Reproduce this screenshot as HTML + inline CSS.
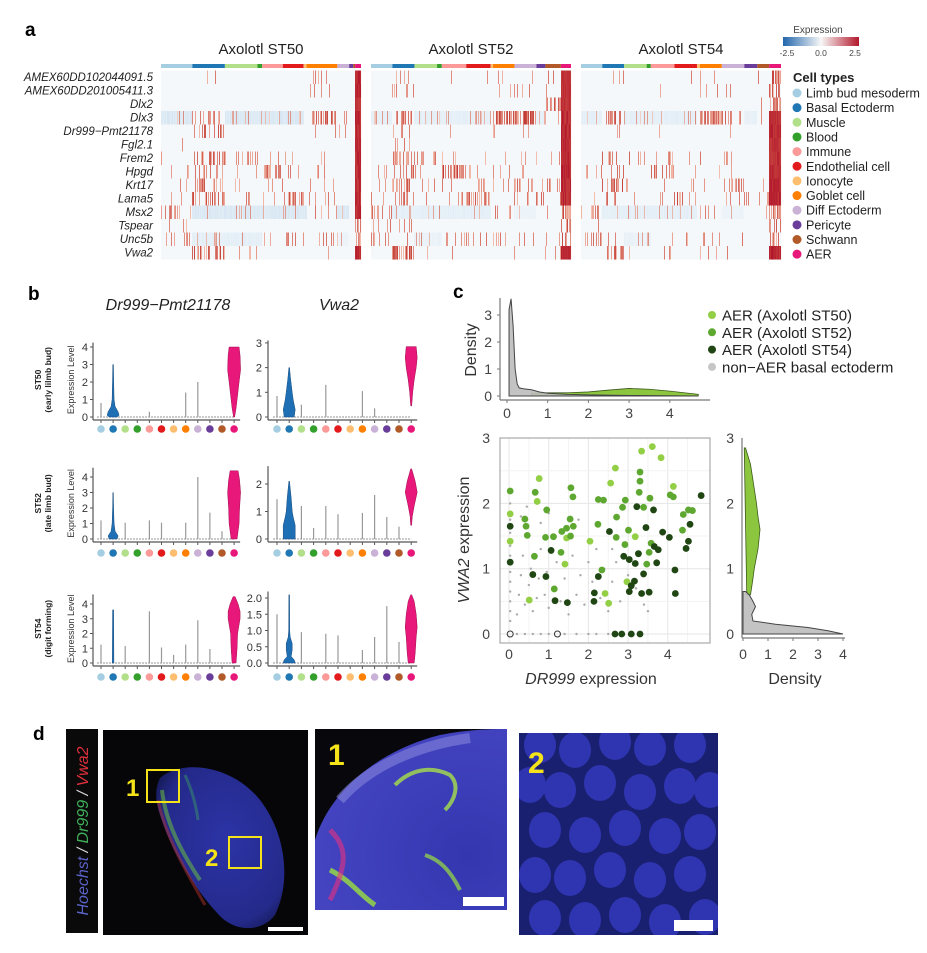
<!DOCTYPE html>
<html><head><meta charset="utf-8"><style>
html,body{margin:0;padding:0;background:#fff}
svg{display:block;font-family:"Liberation Sans",sans-serif}
</style></head><body>
<svg id="fig" width="927" height="953" viewBox="0 0 927 953">
<text x="25" y="36" font-size="19" font-weight="bold">a</text>
<text x="28" y="300" font-size="19" font-weight="bold">b</text>
<text x="453" y="298" font-size="19" font-weight="bold">c</text>
<text x="33" y="740" font-size="19" font-weight="bold">d</text>

<g id="heat"></g>
<g id="heatLegend">
  <defs><linearGradient id="expg" x1="0" x2="1"><stop offset="0" stop-color="#2166ac"/><stop offset="0.5" stop-color="#f7f7f7"/><stop offset="1" stop-color="#b2182b"/></linearGradient></defs>
  <text x="818" y="33" font-size="10" fill="#444" text-anchor="middle">Expression</text>
  <rect x="783" y="37" width="76" height="9" fill="url(#expg)"/>
  <text x="787" y="56" font-size="8.5" fill="#444" text-anchor="middle">-2.5</text>
  <text x="821" y="56" font-size="8.5" fill="#444" text-anchor="middle">0.0</text>
  <text x="855" y="56" font-size="8.5" fill="#444" text-anchor="middle">2.5</text>
  <text x="793" y="82" font-size="13" font-weight="bold" fill="#222">Cell types</text>
</g>
<g id="violins">
  <text x="168" y="310" font-size="16" font-style="italic" text-anchor="middle" fill="#222">Dr999−Pmt21178</text>
  <text x="339" y="310" font-size="16" font-style="italic" text-anchor="middle" fill="#222">Vwa2</text>
</g>
<g id="scatter"></g>
<g id="micro">
  <defs>
    <radialGradient id="tissueG" cx="0.55" cy="0.45" r="0.65"><stop offset="0" stop-color="#2c33a6"/><stop offset="0.8" stop-color="#242a8a"/><stop offset="1" stop-color="#161a5a"/></radialGradient>
    <radialGradient id="zoom1G" cx="0.8" cy="0.7" r="0.8"><stop offset="0" stop-color="#3436b0"/><stop offset="1" stop-color="#4444c0"/></radialGradient>
    <clipPath id="clip2"><rect x="519" y="733" width="199" height="202"/></clipPath>
  </defs>
  <rect x="66" y="729" width="32" height="204" fill="#0a0a0a"/>
  <text transform="translate(88,831) rotate(-90)" font-size="16" font-style="italic" text-anchor="middle"><tspan fill="#5a63c8">Hoechst</tspan><tspan fill="#ddd"> / </tspan><tspan fill="#3faf5a">Dr999</tspan><tspan fill="#ddd"> / </tspan><tspan fill="#e0303c">Vwa2</tspan></text>
  <rect x="103" y="730" width="205" height="205" fill="#060608"/>
  <path d="M160,778 C180,760 230,763 260,800 C285,832 292,880 275,915 C262,932 238,932 222,918 C196,892 172,852 160,815 C155,800 155,788 160,778 Z" fill="url(#tissueG)"/>
  <path d="M162,790 C165,820 180,850 200,880" stroke="#6ac040" stroke-width="4" fill="none" opacity="0.55"/>
  <path d="M158,800 C165,835 185,870 205,905" stroke="#b03028" stroke-width="3" fill="none" opacity="0.5"/>
  <path d="M185,775 C192,790 196,805 198,820" stroke="#3fae5a" stroke-width="3" fill="none" opacity="0.4"/>
  <rect x="147" y="770" width="32" height="32" fill="none" stroke="#f5e31a" stroke-width="2"/>
  <text x="126" y="796" font-size="24" font-weight="bold" fill="#f5e31a">1</text>
  <rect x="229" y="837" width="32" height="31" fill="none" stroke="#f5e31a" stroke-width="2"/>
  <text x="205" y="866" font-size="24" font-weight="bold" fill="#f5e31a">2</text>
  <rect x="268" y="927" width="35" height="4" fill="#fff"/>

  <rect x="315" y="729" width="192" height="181" fill="#08080c"/>
  <path d="M315,910 L315,840 C330,790 380,750 440,735 C470,729 495,729 507,729 L507,910 Z" fill="url(#zoom1G)"/>
  <path d="M340,800 C370,765 420,745 470,738" stroke="#8a8ae0" stroke-width="10" fill="none" opacity="0.55"/>
  <path d="M395,785 C410,770 430,765 450,775 C460,785 455,800 445,810" stroke="#a8e04a" stroke-width="4" fill="none" opacity="0.8"/>
  <path d="M330,870 C350,880 360,895 375,905" stroke="#9ae040" stroke-width="5" fill="none" opacity="0.8"/>
  <path d="M425,855 C440,860 450,870 460,890" stroke="#9ae040" stroke-width="4" fill="none" opacity="0.7"/>
  <path d="M330,830 C345,845 350,860 330,900" stroke="#e83080" stroke-width="5" fill="none" opacity="0.6"/>
  <rect x="463" y="897" width="41" height="9" fill="#fff"/>
  <text x="328" y="765" font-size="30" font-weight="bold" fill="#f5e31a">1</text>

  <rect x="519" y="733" width="199" height="202" fill="#1a2070"/>
  <g id="nuclei" fill="#2f35b0" clip-path="url(#clip2)"></g>
  <rect x="674" y="920" width="39" height="11" fill="#fff"/>
  <text x="528" y="773" font-size="30" font-weight="bold" fill="#f5e31a">2</text>
</g>
</svg>
<script>
const NS='http://www.w3.org/2000/svg';
function mk(tag,attrs,parent){const e=document.createElementNS(NS,tag);for(const k in attrs)e.setAttribute(k,attrs[k]);parent.appendChild(e);return e;}

/* ================= Panel a: heatmap ================= */
const cellTypes=['Limb bud mesoderm','Basal Ectoderm','Muscle','Blood','Immune','Endothelial cell','Ionocyte','Goblet cell','Diff Ectoderm','Pericyte','Schwann','AER'];
const cellColors=['#a6cee3','#1f78b4','#b2df8a','#33a02c','#fb9a99','#e31a1c','#fdbf6f','#ff7f00','#cab2d6','#6a3d9a','#b15928','#e8177a'];
const genes=['AMEX60DD102044091.5','AMEX60DD201005411.3','Dlx2','Dlx3','Dr999−Pmt21178','Fgl2.1','Frem2','Hpgd','Krt17','Lama5','Msx2','Tspear','Unc5b','Vwa2'];
const stages=['Axolotl ST50','Axolotl ST52','Axolotl ST54'];
const segST50=[53,55,55,8,35,35,5,52,20,7,3,10];
const segST52=[36,37,38,8,41,41,4,36,37,15,26,17];
const segST54=[36,37,38,7,40,38,5,37,38,22,20,20];
const exprST50=[
[0,0.1,0,0,0,0,0,0.2,0.1,0,0,3],[0,0,0,0,0,0,0,0.3,0,0,0,3],[0,0,0,0,0,0,0,0,0,0,0,3],
[-1,1,-1,-1,-1,-1,0,1.6,0.6,0,0,3],[0,1.3,0,0,0,0,0,0.2,0.5,0,0,3],[0.1,0,0,0,0,0,0,0,0,0,0,3],
[0.2,1.3,0.9,0.5,0.2,0.2,0,0.3,0.2,0,0,3],[0.2,0.9,0.2,0,1.3,0.2,0,0.3,0.2,0,0,3],[0.1,1.3,0.2,0,0.2,0.2,0,0.2,0.2,0,0,3],
[0.2,1.6,0.3,0,0.3,1.7,0,0.3,0.3,0,0,3],[1.2,-1,-1,-1,-1,-1,-1,0.3,-1,0,0,3],[0.3,0,0,0,0,0,0,0,0,0,0,2],
[0.6,-0.6,-0.6,-0.6,0.4,0.4,0,0.4,-0.3,0,0,1.5],[0,1.9,0.1,0,0.1,0,0,0.1,0.1,0,0,3]];
const exprST52=[
[0,0.3,0,0,0.3,0.3,0,0.3,0.3,0.3,0.3,2.6],[0,0.3,0,0,0.2,0,0,0.2,0.4,0.2,0.3,2.6],[0,0,0,0,0,0,0,0,0,0,1.5,2.6],
[-0.6,1.6,-0.6,-0.6,-0.6,-0.6,0,2,2,-0.5,0.5,3],[0,0.3,0,0,0.3,0,0,0.2,0.3,0,0.3,3],[0,0.2,0,0,0,0,0,0,0,0,0,3],
[0.2,1.9,1.2,0.3,0.3,0.3,0,0.3,0.3,0.3,0.3,3],[0.2,1,0.3,0,2,0.3,0,0.3,0.3,0,0.3,3],[0.2,1.9,0.3,0,0.3,0.3,0,0.3,0.8,0.3,0.3,3],
[0.2,1,0.3,0,0.3,1.9,0,0.3,0.3,0.8,0.6,3],[0.9,-0.6,-0.6,-0.6,-0.6,-0.6,0,0.8,-0.3,0,0.2,2],[0.3,0.3,0,0,0,0,0,0,0,0,0,1.5],
[0.7,0.3,-0.4,-0.4,0.3,0.5,0,0.5,0.3,0,0.3,1.5],[0,1.9,0.2,0,0.2,0.2,0,0.2,0.2,0,0.2,3]];
const exprST54=[
[0,0.3,0,0,0,0.2,0,0.3,0.3,0,0.3,2],[0,0.2,0,0,0.2,0,0,0.4,0.4,0.2,0.2,2],[0,0,0,0,0,0,0,0,0,0,0.3,2.2],
[-0.6,1.6,-0.6,-0.6,-0.6,-0.6,0,2.3,1,-0.5,0.3,2.6],[0,0.3,0,0,0.2,0,0,0.2,0.2,0,0.2,3],[0,0.2,0,0,0,0,0,0,0,0,0,2.6],
[0.2,1.2,0.8,0.2,0.3,0.2,0,0.3,0.3,0.2,0.2,2.8],[0.2,0.8,0.2,0,1.2,0.2,0,0.3,0.3,0,0.2,2.8],[0.2,1.7,0.3,0,0.3,0.3,0,0.3,0.9,0.3,0.2,3],
[0.2,0.9,0.3,0,0.3,1.6,0,0.3,0.3,0.3,0.3,3],[0.9,-0.6,-0.6,-0.6,-0.6,-0.6,0,0.5,-0.3,0,0.2,1.8],[0.2,0.1,0,0,0,0,0,0,0,0,0,1.2],
[0.6,0.3,-0.4,-0.4,0.3,0.4,0,0.4,0.3,0,0.2,1.5],[0,1.6,0.2,0,0.2,0.2,0,0.2,0.2,0,0.2,3]];
const stageSegs=[segST50,segST52,segST54];
const stageExpr=[exprST50,exprST52,exprST54];
const blockX=[161,371,581], blockW=200, heatTop=70.5, rowH=13.5;

function hash(a,b){let h=(a*374761393+b*668265263)^0x5bd1e995;h=(h^(h>>>13))*1274126177;h=h^(h>>>16);return ((h>>>0)%10000)/10000;}
function mix(c1,c2,t){const p=s=>[1,3,5].map(i=>parseInt(s.substr(i,2),16));const a=p(c1),b=p(c2);return 'rgb('+a.map((v,i)=>Math.round(v+(b[i]-v)*t)).join(',')+')';}
function cellColor(v,c,g){
  if(v<0){ if(hash(c+3,g+5)<0.12) return mix('#f2d0c6','#d88a7c',hash(c,g)); return mix('#f4f8fb','#d6e6f2',Math.min(1,-v)*(0.6+0.4*hash(c+11,g)));}
  if(v>=2.5){const k=hash(c,g+99);return mix('#d6604d','#b2182b',0.5+0.5*k*(v-2)); }
  if(hash(c,g)<v/3.2){const k=hash(c+7,g+3);return mix('#f4c0b0','#c23a32',k*(0.5+v/4));}
  return '#f4f8fb';
}
const heat=document.getElementById('heat');
stages.forEach((st,s)=>{
  const t=mk('text',{x:blockX[s]+blockW/2,y:54,'font-size':15,'text-anchor':'middle',fill:'#222'},heat);
  t.textContent=st;
  
  
  const segs=stageSegs[s], tot=segs.reduce((a,b)=>a+b,0);
  const bounds=[];let acc=0;
  segs.forEach((w,i)=>{const x0=blockX[s]+acc/tot*blockW;acc+=w;const x1=blockX[s]+acc/tot*blockW;bounds.push([x0,x1]);
    const r=mk('rect',{x:x0,y:64,width:x1-x0,height:4,fill:cellColors[i]},heat);
    
    
  });
  const M=stageExpr[s];
  for(let g=0;g<genes.length;g++){
    for(let c=0;c<blockW;c++){
      const xc=blockX[s]+c+0.5;
      let ti=bounds.findIndex(b=>xc>=b[0]&&xc<b[1]); if(ti<0) ti=11;
      mk('rect',{x:blockX[s]+c,y:heatTop+g*rowH,width:1.05,height:rowH+0.05,fill:cellColor(M[g][ti],c+s*300,g)},heat);
    }
  }
});
genes.forEach((g,i)=>{
  const t=mk('text',{x:153,y:heatTop+i*rowH+10.5,'font-size':11.5,'font-style':'italic','text-anchor':'end',fill:'#222'},heat);
  t.textContent=g;
  
  
});
const hl=document.getElementById('heatLegend');
cellTypes.forEach((c,i)=>{
  const y=93+i*14.65;
  const d=mk('circle',{cx:797,cy:y,r:4.5,fill:cellColors[i]},hl);
  
  
  const t=mk('text',{x:806,y:y+4.5,'font-size':12.5,fill:'#222'},hl);
  t.textContent=c;
  
  
});

/* ================= Panel b: violins ================= */
const linesST50dr=[0.8,3.0,0,0,0.3,0,0,1.4,2.0,0,0,4.0];
const linesST50vw=[0.85,2.0,0.5,0,1.3,0,0,1.05,0.35,0,0,2.85];
const linesST52dr=[1.2,3.0,1.05,0,1.2,1.05,0,1.05,4.0,1.7,0.5,4.4];
const linesST52vw=[1.45,2.1,1.2,0.4,1.2,0.9,0,0.95,1.6,0.8,0.45,2.55];
const linesST54dr=[1.25,3.6,1.15,0,3.5,1.05,0.55,1.25,2.9,0.95,0,4.5];
const linesST54vw=[1.5,2.1,0.95,0,0.9,0.85,0,0.4,0.8,1.75,0.65,2.1];
const basalST50dr=[[0,4],[0.1,6],[0.3,5],[0.6,2],[1,1],[2,0.6],[3,0.3]];
const aerST50dr=[[0,0.5],[0.5,2],[1,3],[2,5],[2.7,6.5],[3.5,6],[4,5]];
const basalST50vw=[[0,5],[0.3,6],[0.7,4],[1,3],[1.5,1.5],[2,0.3]];
const aerST50vw=[[0.45,0.5],[1,1.5],[1.5,3],[2,5],[2.4,6],[2.85,5]];
const basalST52dr=[[0,4],[0.2,5],[0.5,2],[1,1],[2,0.5],[3,0.2]];
const aerST52dr=[[0,3],[0.5,4],[1,5],[2,5.5],[3,6.5],[3.8,5.5],[4.4,4]];
const basalST52vw=[[0,6],[0.5,6],[0.8,4],[1,3],[1.5,2],[2.1,0.3]];
const aerST52vw=[[0.5,0.5],[0.8,1],[1.2,3],[1.7,6],[2.1,4],[2.55,0.5]];
const basalST54dr=[[0,0.8],[3.6,0.5]];
const aerST54dr=[[0,2],[0.5,2.5],[1,3],[2,3.5],[3,6],[3.5,6],[4,4],[4.5,1]];
const basalST54vw=[[0,6],[0.1,5],[0.2,2],[0.4,3],[0.6,3],[0.8,1],[1,0.5],[2.1,0.3]];
const aerST54vw=[[0,3],[0.3,4],[0.8,5],[1.1,6],[1.5,5],[1.9,3],[2.1,0.5]];
const ticksDr=[0,1,2,3,4];
const ticksVw50=[0,1,2,3], ticksVw52=[0,1,2], ticksVw54=['0.0','0.5','1.0','1.5','2.0'];
const rowLabels=[['ST50','(early lilmb bud)'],['ST52','(late limb bud)'],['ST54','(digit forming)']];

const panels=[
 {lines:linesST50dr,basal:basalST50dr,aer:aerST50dr,ticks:ticksDr,ax:93,x0:101,dx:12.1,y0:417,ppu:17.5,ymax:4.25,dotY:429,lab:88},
 {lines:linesST50vw,basal:basalST50vw,aer:aerST50vw,ticks:ticksVw50,ax:268,x0:277,dx:12.2,y0:417,ppu:24.7,ymax:3.1,dotY:429,lab:262},
 {lines:linesST52dr,basal:basalST52dr,aer:aerST52dr,ticks:ticksDr,ax:93,x0:101,dx:12.1,y0:539,ppu:15.5,ymax:4.6,dotY:553,lab:88},
 {lines:linesST52vw,basal:basalST52vw,aer:aerST52vw,ticks:ticksVw52,ax:268,x0:277,dx:12.2,y0:539,ppu:27.5,ymax:2.65,dotY:553,lab:262},
 {lines:linesST54dr,basal:basalST54dr,aer:aerST54dr,ticks:ticksDr,ax:93,x0:101,dx:12.1,y0:663,ppu:14.75,ymax:4.65,dotY:677,lab:88},
 {lines:linesST54vw,basal:basalST54vw,aer:aerST54vw,ticks:ticksVw54,ax:268,x0:277,dx:12.2,y0:663,ppu:32.5,ymax:2.2,dotY:677,lab:262}
];
const vg=document.getElementById('violins');
function violinPath(cx,y0,ppu,prof){
  const r=prof.map(p=>(cx+p[1])+','+(y0-p[0]*ppu));
  const l=prof.slice().reverse().map(p=>(cx-p[1])+','+(y0-p[0]*ppu));
  return 'M'+r.concat(l).join(' L')+' Z';
}
panels.forEach((p,pi)=>{
  const g=mk('g',{},vg);
  
  
  const yv=v=>p.y0-v*p.ppu;
  const xEnd=p.x0+11*p.dx+6;
  mk('line',{x1:p.ax,y1:yv(p.ymax),x2:p.ax,y2:p.y0+3,stroke:'#555','stroke-width':1.2},g);
  mk('line',{x1:p.ax,y1:p.y0+3,x2:xEnd,y2:p.y0+3,stroke:'#555','stroke-width':1.2},g);
  mk('line',{x1:p.x0-4,y1:p.y0,x2:xEnd-6,y2:p.y0,stroke:'#aaa','stroke-width':1.2,'stroke-dasharray':'2,1'},g);
  p.ticks.forEach(tk=>{
    const y=yv(parseFloat(tk));
    mk('line',{x1:p.ax-3,y1:y,x2:p.ax,y2:y,stroke:'#555'},g);
    const t=mk('text',{x:p.lab,y:y+4,'font-size':11,'text-anchor':'end',fill:'#333'},g);
    t.textContent=tk;
  });
  p.lines.forEach((v,i)=>{
    const x=p.x0+i*p.dx;
    mk('line',{x1:x,y1:p.y0+3,x2:x,y2:p.y0+6,stroke:'#555'},g);
    if(i!==1&&i!==11&&v>0){
      const ln=mk('line',{x1:x,y1:p.y0,x2:x,y2:yv(v),stroke:'#999','stroke-width':1.2},g);
      
      
    }
    const d=mk('circle',{cx:x,cy:p.dotY,r:3.8,fill:cellColors[i]},g);
    
    
  });
  const bx=p.x0+p.dx, ax=p.x0+11*p.dx;
  mk('line',{x1:bx,y1:p.y0,x2:bx,y2:yv(p.lines[1]),stroke:'#999','stroke-width':1},g);
  const b=mk('path',{d:violinPath(bx,p.y0,p.ppu,p.basal),fill:'#1f6fb4',stroke:'#1a4f80','stroke-width':0.5},g);
  
  
  const a=mk('path',{d:violinPath(ax,p.y0,p.ppu,p.aer),fill:'#e8177a',stroke:'#a01050','stroke-width':0.5},g);
  
  
  if(pi%2===0){
    const cy=(p.y0+yv(p.ymax))/2;
    const el=mk('text',{transform:`translate(74,${cy}) rotate(-90)`,'font-size':9,'text-anchor':'middle',fill:'#333'},g);
    el.textContent='Expression Level';
    
    
    const rl=rowLabels[pi/2];
    const t1=mk('text',{transform:`translate(41,${cy}) rotate(-90)`,'font-size':8.5,'font-weight':'bold','text-anchor':'middle',fill:'#222'},g);
    t1.textContent=rl[0];
    
    
    const t2=mk('text',{transform:`translate(51,${cy}) rotate(-90)`,'font-size':8.5,'font-weight':'bold','text-anchor':'middle',fill:'#222'},g);
    t2.textContent=rl[1];
    
    
  }
});

/* ================= Panel c: scatter + densities ================= */
const st50X=[3.61,3.34,3.83,2.68,2.56,0.76,0.71,0.03,0.03,1.41,2.42,2.51,4.14,2.97,0.51,3.18,2.04,1.45];
const st50Y=[2.87,2.80,2.70,2.54,2.31,2.38,2.03,1.84,1.42,1.07,0.62,0.47,2.26,0.80,0.52,1.49,1.42,1.47];
const st52X=[0.03,0.66,0.95,0.40,0.43,0.46,1.54,1.56,1.61,1.62,1.45,1.33,1.12,0.92,1.55,0.64,1.31,1.14,2.25,2.38,2.24,2.71,2.70,2.93,2.86,3.30,3.30,3.28,3.55,3.39,4.06,4.14,3.01,2.92,3.58,3.47,3.53,4.39,4.52,4.62,4.37,2.34];
const st52Y=[2.19,2.17,1.90,1.76,1.65,1.51,1.76,2.24,2.10,1.65,1.62,1.57,1.49,1.48,1.50,1.19,1.25,0.69,2.06,2.05,1.68,1.79,1.48,2.05,1.94,2.48,2.34,2.17,2.08,1.94,2.13,2.10,1.59,1.37,1.39,1.07,1.25,1.83,1.90,1.89,1.59,0.98];
const st54X=[0.03,0.03,0.60,0.93,1.06,1.16,1.47,2.15,2.25,2.14,2.53,2.89,3.03,3.18,3.26,3.22,3.64,3.45,3.66,3.76,3.72,3.87,4.04,4.18,4.19,4.46,4.52,4.56,4.84,3.39,3.16,3.03,3.34,3.53,3.08,2.67,2.84,3.08,3.30];
const st54Y=[1.65,1.10,0.91,0.88,1.28,0.51,0.48,0.63,0.88,0.50,1.57,1.19,1.14,1.08,1.23,1.95,1.90,1.63,1.34,1.29,1.09,1.56,1.48,0.98,0.62,1.31,1.42,1.68,2.12,0.92,0.81,0.65,0.62,0.64,0.74,0,0,0,0];
const greyX=[0.03,0.03,0.03,0.03,0.03,0.03,0.03,0.03,0.03,0.03,0.03,0.2,0.4,0.6,0.8,1.0,1.4,1.7,2.0,2.2,2.5,2.9,0.2,0.25,0.3,0.35,0.4,0.5,0.55,0.6,0.7,0.75,0.8,0.9,0.95,1.0,1.1,1.2,1.3,1.4,1.5,1.6,1.7,1.8,1.9,2.0,2.1,2.2,2.3,2.4,2.5,2.6,2.7,2.8,3.0,3.2,3.4,3.5,0.3,0.45,0.5,0.8,1.0,1.3,2.6,1.75];
const greyY=[0.2,0.35,0.5,0.65,0.8,0.95,1.2,1.35,1.55,1.75,2.0,0,0,0,0,0,0,0,0,0,0,0,0.3,0.6,0.9,1.2,0.45,0.75,1.0,0.35,0.55,0.85,1.3,0.6,0.95,0.4,0.7,1.1,0.5,0.85,0.3,1.2,0.6,0.9,0.45,1.1,0.8,1.3,0.55,1.0,0.35,0.8,1.1,0.5,0.9,0.7,0.45,0.35,1.8,1.95,1.5,1.7,1.85,1.6,1.3,1.75];
const hollowX=[0.03,1.22], hollowY=[0,0];
const denTopGreyX=[0.05,0.1,0.15,0.2,0.25,0.3,0.4,0.6,0.8,1,1.5,2,3,4,4.7];
const denTopGreyD=[3.2,3.6,2.6,1.0,0.45,0.3,0.27,0.23,0.15,0.1,0.06,0.04,0.02,0.01,0.0];
const denTopGreenX=[0.6,1,1.5,2,2.5,3,3.5,4,4.7];
const denTopGreenD=[0.1,0.12,0.12,0.15,0.22,0.28,0.25,0.18,0.06];
const denRightGreyY=[0,0.05,0.1,0.15,0.2,0.3,0.42,0.5,0.6,0.65];
const denRightGreyD=[4.0,3.4,2.6,1.3,0.4,0.35,0.5,0.4,0.25,0.1];
const denRightGreenY=[0.6,0.8,1.0,1.3,1.6,1.8,2.0,2.3,2.6,2.85];
const denRightGreenD=[0.3,0.38,0.45,0.6,0.68,0.6,0.54,0.42,0.3,0.1];
const scTicks=[0,1,2,3,4], denYTicks=[0,1,2,3];
const seriesNames=['AER (Axolotl ST50)','AER (Axolotl ST52)','AER (Axolotl ST54)','non−AER basal ectoderm'];
const seriesColors=['#93cf45','#5ea832','#1f4613','#c6c6c6'];

const sc=document.getElementById('scatter');
const sx=v=>509+v*39.7, sy=v=>634-v*65.3;
const tx=v=>507+v*40.7, ty=v=>396-v*27;
const rx=v=>743+v*25;
function txt(x,y,s,attrs,name){const t=mk('text',Object.assign({x:x,y:y,'font-size':14,fill:'#444'},attrs||{}),sc);t.textContent=s;return t;}
mk('line',{x1:500,y1:298,x2:500,y2:400,stroke:'#777','stroke-width':1.2},sc);
mk('line',{x1:500,y1:400,x2:710,y2:400,stroke:'#777','stroke-width':1.2},sc);
denYTicks.forEach(v=>{txt(492,ty(v)+5,String(v),{'text-anchor':'end'},'top-density-y-tick');mk('line',{x1:497,y1:ty(v),x2:500,y2:ty(v),stroke:'#777'},sc);});
scTicks.forEach(v=>{txt(tx(v),418,String(v),{'text-anchor':'middle'},'top-density-x-tick');mk('line',{x1:tx(v),y1:400,x2:tx(v),y2:403,stroke:'#777'},sc);});
txt(0,0,'Density',{transform:'translate(476,350) rotate(-90)','text-anchor':'middle','font-size':16,fill:'#333',x:0,y:0},'top-density-axis-title');
let dp='M'+tx(denTopGreenX[0])+','+ty(0)+' '+denTopGreenX.map((x,i)=>'L'+tx(x)+','+ty(denTopGreenD[i])).join(' ')+' L'+tx(denTopGreenX[denTopGreenX.length-1])+','+ty(0)+' Z';
let e=mk('path',{d:dp,fill:'#8cc63f',stroke:'#3d5a1c','stroke-width':0.8},sc);


dp='M'+tx(denTopGreyX[0])+','+ty(0)+' '+denTopGreyX.map((x,i)=>'L'+tx(x)+','+ty(denTopGreyD[i])).join(' ')+' L'+tx(4.7)+','+ty(0)+' Z';
e=mk('path',{d:dp,fill:'#bdbdbd',stroke:'#444','stroke-width':1,'fill-opacity':0.9},sc);


for(let v=0;v<=4.5;v+=0.5){mk('line',{x1:sx(v),y1:438,x2:sx(v),y2:643,stroke:v%1?'#f3f3f3':'#e6e6e6'},sc);}
for(let v=0;v<=3;v+=0.5){mk('line',{x1:500,y1:sy(v),x2:710,y2:sy(v),stroke:v%1?'#f3f3f3':'#e6e6e6'},sc);}
e=mk('rect',{x:500,y:438,width:210,height:205,fill:'none',stroke:'#aaa','stroke-width':1.2},sc);


denYTicks.forEach(v=>txt(490,sy(v)+5,String(v),{'text-anchor':'end'},'scatter-y-tick'));
scTicks.forEach(v=>txt(sx(v),659,String(v),{'text-anchor':'middle'},'scatter-x-tick'));
txt(591,684,'',{'text-anchor':'middle','font-size':16,fill:'#333'},'scatter-x-axis-title').innerHTML='<tspan font-style="italic">DR999</tspan> expression';
txt(0,0,'',{transform:'translate(469,540) rotate(-90)','text-anchor':'middle','font-size':16,fill:'#333',x:0,y:0},'scatter-y-axis-title').innerHTML='<tspan font-style="italic">VWA2</tspan> expression';
greyX.forEach((x,i)=>{const c=mk('circle',{cx:sx(x),cy:sy(greyY[i]),r:1.2,fill:'#aaa'},sc);});
[[st50X,st50Y,0],[st52X,st52Y,1],[st54X,st54Y,2]].forEach(([X,Y,k])=>{
  X.forEach((x,i)=>{const c=mk('circle',{cx:sx(x),cy:sy(Y[i]),r:3.4,fill:seriesColors[k]},sc);});
});
hollowX.forEach((x,i)=>{const c=mk('circle',{cx:sx(x),cy:sy(hollowY[i]),r:3,fill:'none',stroke:'#333','stroke-width':1},sc);});
mk('line',{x1:742,y1:438,x2:742,y2:638,stroke:'#777','stroke-width':1.2},sc);
mk('line',{x1:742,y1:638,x2:845,y2:638,stroke:'#777','stroke-width':1.2},sc);
denYTicks.forEach(v=>txt(734,sy(v)+5,String(v),{'text-anchor':'end'},'right-density-y-tick'));
scTicks.forEach(v=>{txt(rx(v),659,String(v),{'text-anchor':'middle'},'right-density-x-tick');mk('line',{x1:rx(v),y1:638,x2:rx(v),y2:641,stroke:'#777'},sc);});
txt(795,684,'Density',{'text-anchor':'middle','font-size':16,fill:'#333'},'right-density-axis-title');
dp='M'+rx(0.15)+','+sy(denRightGreenY[0])+' '+denRightGreenY.map((y,i)=>'L'+rx(denRightGreenD[i])+','+sy(y)).join(' ')+' L'+rx(0.05)+','+sy(2.85)+' Z';
e=mk('path',{d:dp,fill:'#8cc63f',stroke:'#3d5a1c','stroke-width':0.8},sc);


dp='M'+rx(0)+','+sy(0)+' '+denRightGreyY.map((y,i)=>'L'+rx(denRightGreyD[i])+','+sy(y)).join(' ')+' L'+rx(0)+','+sy(0.65)+' Z';
e=mk('path',{d:dp,fill:'#bdbdbd',stroke:'#444','stroke-width':1,'fill-opacity':0.9},sc);


seriesNames.forEach((n,i)=>{
  const y=315+i*17.3;
  const c=mk('circle',{cx:712,cy:y,r:4,fill:seriesColors[i]},sc);
  
  
  txt(722,y+5.5,n,{'font-size':15,fill:'#222'},'scatter-legend-entry');
});

/* ================= Panel d: nuclei texture ================= */
const nucleiCX=[540,575,615,650,690,530,560,600,640,680,710,545,585,625,665,700,535,570,610,650,690,545,585,625,665,705];
const nucleiCY=[745,750,742,748,745,785,790,783,792,786,790,830,835,828,836,832,875,878,870,880,874,918,920,915,922,917];
const ng=document.getElementById('nuclei');
nucleiCX.forEach((x,i)=>{const c=mk('ellipse',{cx:x,cy:nucleiCY[i],rx:16,ry:18},ng);});
</script>
</body></html>
